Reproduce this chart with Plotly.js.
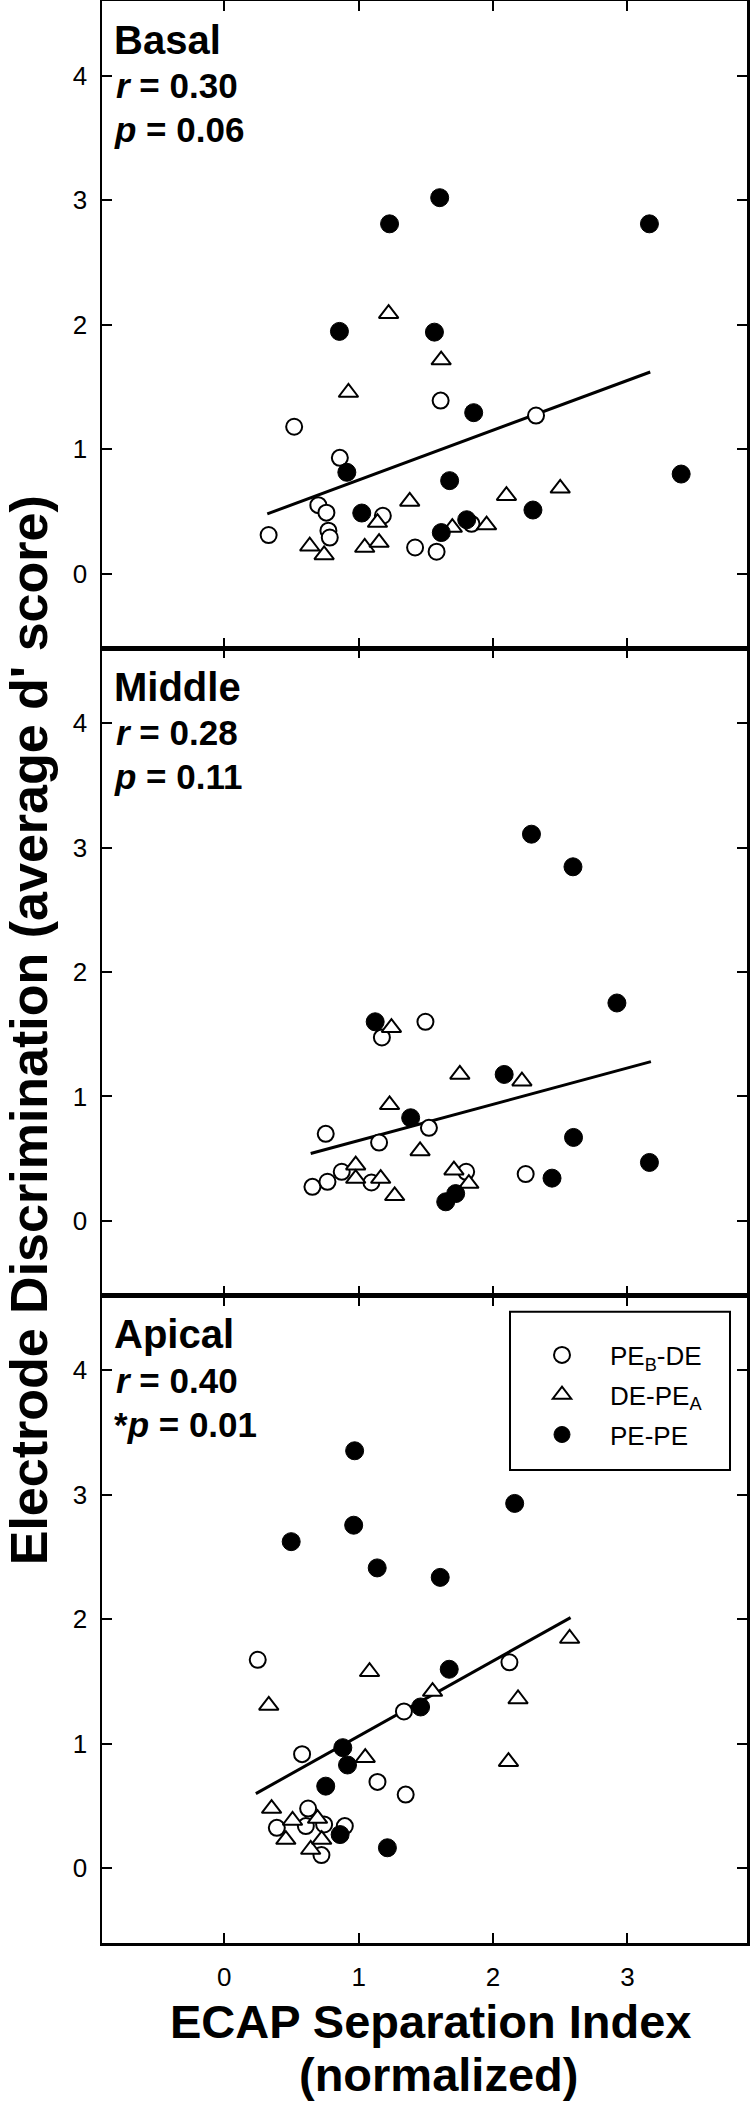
<!DOCTYPE html>
<html>
<head>
<meta charset="utf-8">
<script src="https://cdn.plot.ly/plotly-3.0.1.min.js"></script>
<style>html,body{margin:0;padding:0;background:#fff;}#chart{width:750px;height:2101px;}</style>
</head>
<body>
<div id="chart"></div>
<script>
// ---------------- data ----------------
const panelNames = ['Basal', 'Middle', 'Apical'];
const rValues = ['0.30', '0.28', '0.40'];
const pValues = ['0.06', '0.11', '0.01'];
const pPrefixes = ['', '', '*'];
const seriesNames = ['PE<sub>B</sub>-DE', 'DE-PE<sub>A</sub>', 'PE-PE'];
const xTicks = [0, 1, 2, 3];
const yTicks = [0, 1, 2, 3, 4];
const xTitleLines = ['ECAP Separation Index', '(normalized)'];
const yTitle = "Electrode Discrimination (average d' score)";

// Basal
const basalPebDeX = [0.33, 0.52, 0.86, 0.70, 0.76, 0.775, 0.785, 1.18, 1.42, 1.58, 1.61, 1.84, 2.32];
const basalPebDeY = [0.31, 1.18, 0.93, 0.55, 0.49, 0.345, 0.29, 0.465, 0.21, 0.176, 1.39, 0.40, 1.27];
const basalDePeaX = [0.636, 0.743, 0.924, 1.045, 1.14, 1.152, 1.223, 1.38, 1.614, 1.697, 1.952, 2.10, 2.50];
const basalDePeaY = [0.22, 0.15, 1.455, 0.21, 0.41, 0.25, 2.088, 0.58, 1.716, 0.37, 0.39, 0.626, 0.685];
const basalPePeX = [0.857, 0.912, 1.023, 1.23, 1.564, 1.603, 1.615, 1.677, 1.804, 1.856, 2.297, 3.164, 3.40];
const basalPePeY = [1.946, 0.814, 0.487, 2.81, 1.94, 3.02, 0.33, 0.747, 0.433, 1.293, 0.511, 2.81, 0.80];
const basalFitX = [0.32, 3.17];
const basalFitY = [0.48, 1.62];

// Middle
const middlePebDeX = [0.656, 0.755, 0.768, 0.874, 1.095, 1.152, 1.173, 1.497, 1.523, 1.80, 2.243];
const middlePebDeY = [0.274, 0.70, 0.315, 0.395, 0.309, 0.63, 1.474, 1.60, 0.748, 0.395, 0.377];
const middleDePeaX = [0.978, 0.978, 1.164, 1.23, 1.244, 1.268, 1.457, 1.709, 1.753, 1.82, 2.215];
const middleDePeaY = [0.448, 0.341, 0.341, 0.933, 1.553, 0.202, 0.563, 0.408, 1.177, 0.30, 1.123];
const middlePePeX = [1.123, 1.387, 1.648, 1.722, 2.083, 2.286, 2.439, 2.595, 2.599, 2.922, 3.164];
const middlePePeY = [1.60, 0.829, 0.154, 0.22, 1.177, 3.107, 0.344, 2.845, 0.671, 1.751, 0.47];
const middleFitX = [0.643, 3.175];
const middleFitY = [0.542, 1.28];

// Apical
const apicalPebDeX = [0.249, 0.391, 0.579, 0.607, 0.624, 0.723, 0.743, 0.897, 1.14, 1.337, 1.35, 2.122];
const apicalPebDeY = [1.675, 0.325, 0.917, 0.339, 0.48, 0.106, 0.352, 0.339, 0.694, 1.26, 0.592, 1.655];
const apicalDePeaX = [0.331, 0.352, 0.458, 0.508, 0.643, 0.694, 0.725, 1.049, 1.081, 1.55, 2.115, 2.186, 2.57];
const apicalDePeaY = [1.308, 0.48, 0.231, 0.384, 0.151, 0.40, 0.231, 0.889, 1.579, 1.42, 0.857, 1.36, 1.846];
const apicalPePeX = [0.498, 0.755, 0.862, 0.882, 0.917, 0.963, 0.97, 1.138, 1.214, 1.461, 1.607, 1.674, 2.161];
const apicalPePeY = [2.624, 0.66, 0.271, 0.969, 0.83, 2.756, 3.354, 2.413, 0.165, 1.296, 2.337, 1.599, 2.931];
const apicalFitX = [0.235, 2.577];
const apicalFitY = [0.60, 2.014];

// ---------------- layout helpers ----------------
const W = 750, H = 2101;
const M = {l: 102, r: 3, t: 1, b: 158};
const PW = W - M.l - M.r, PH = H - M.t - M.b;
const px = v => (v - M.l) / PW;
const py = v => 1 - (v - M.t) / PH;
const FONT = 'Liberation Sans, Arial, Helvetica, sans-serif';

const panels = [
  {xa: 'x3', ya: 'y3', fitX: basalFitX, fitY: basalFitY,
   s: [[basalPebDeX, basalPebDeY], [basalDePeaX, basalDePeaY], [basalPePeX, basalPePeY]]},
  {xa: 'x2', ya: 'y2', fitX: middleFitX, fitY: middleFitY,
   s: [[middlePebDeX, middlePebDeY], [middleDePeaX, middleDePeaY], [middlePePeX, middlePePeY]]},
  {xa: 'x', ya: 'y', fitX: apicalFitX, fitY: apicalFitY,
   s: [[apicalPebDeX, apicalPebDeY], [apicalDePeaX, apicalDePeaY], [apicalPePeX, apicalPePeY]]}
];

const markerStyles = [
  {symbol: 'circle', size: 16, color: '#ffffff', line: {color: '#000', width: 2}},
  {symbol: 'triangle-up', size: 17, color: '#ffffff', line: {color: '#000', width: 2}},
  {symbol: 'circle', size: 18, color: '#000000', line: {color: '#000', width: 1}}
];

const traces = [];
panels.forEach(p => {
  traces.push({x: p.fitX, y: p.fitY, xaxis: p.xa, yaxis: p.ya, mode: 'lines',
    line: {color: '#000', width: 3}, showlegend: false, hoverinfo: 'skip'});
});
panels.forEach((p, pi) => {
  p.s.forEach((d, si) => {
    traces.push({x: d[0], y: d[1], xaxis: p.xa, yaxis: p.ya, mode: 'markers',
      name: seriesNames[si], legendgroup: 'g' + si, showlegend: pi === 0,
      marker: markerStyles[si]});
  });
});

const panelTop = [1, 648.3, 1295.7];
const annotations = [];
panelNames.forEach((n, i) => {
  const T = panelTop[i];
  annotations.push({xref: 'paper', yref: 'paper', x: px(112), y: py(T + 52.5 - 0.3465 * 40),
    xanchor: 'left', yanchor: 'middle', showarrow: false, text: '<b>' + n + '</b>',
    font: {family: FONT, size: 40, color: '#000'}});
  annotations.push({xref: 'paper', yref: 'paper', x: px(114), y: py(T + 96.5 - 0.3465 * 35),
    xanchor: 'left', yanchor: 'middle', showarrow: false, text: '<b><i>r</i> = ' + rValues[i] + '</b>',
    font: {family: FONT, size: 35, color: '#000'}});
  annotations.push({xref: 'paper', yref: 'paper', x: px(112), y: py(T + 140.5 - 0.3465 * 35),
    xanchor: 'left', yanchor: 'middle', showarrow: false, text: '<b>' + pPrefixes[i] + '<i>p</i> = ' + pValues[i] + '</b>',
    font: {family: FONT, size: 35, color: '#000'}});
});
annotations.push({xref: 'paper', yref: 'paper', x: px(29.3), y: py(1030), xanchor: 'center', yanchor: 'middle',
  textangle: -90, showarrow: false, text: '<b>' + yTitle + '</b>',
  font: {family: FONT, size: 52, color: '#000'}});
annotations.push({xref: 'paper', yref: 'paper', x: px(431), y: py(2037.5 - 0.3465 * 47), xanchor: 'center', yanchor: 'middle',
  showarrow: false, text: '<b>' + xTitleLines[0] + '</b>', font: {family: FONT, size: 47, color: '#000'}});
annotations.push({xref: 'paper', yref: 'paper', x: px(439), y: py(2091 - 0.3465 * 47), xanchor: 'center', yanchor: 'middle',
  showarrow: false, text: '<b>' + xTitleLines[1] + '</b>', font: {family: FONT, size: 47, color: '#000'}});

function xAxis(anchor, labels) {
  return {anchor: anchor, range: [-0.91, 3.89], tickvals: xTicks, ticktext: xTicks.map(String),
    showticklabels: labels, ticks: 'inside', ticklen: 10, tickwidth: 2, tickcolor: '#000',
    showline: true, linewidth: 2.5, linecolor: '#000', mirror: 'ticks', showgrid: false, zeroline: false,
    tickfont: {family: FONT, size: 26, color: '#000'}, ticklabelstandoff: 9, fixedrange: true};
}
function yAxis(anchor, dom) {
  return {anchor: anchor, domain: dom, range: [-0.6, 4.6], tickvals: yTicks, ticktext: yTicks.map(String),
    ticks: 'inside', ticklen: 10, tickwidth: 2, tickcolor: '#000',
    showline: true, linewidth: 2.5, linecolor: '#000', mirror: 'ticks', showgrid: false, zeroline: false,
    tickfont: {family: FONT, size: 26, color: '#000'}, ticklabelstandoff: 7, fixedrange: true};
}

const layout = {
  width: W, height: H, margin: M, paper_bgcolor: '#fff', plot_bgcolor: '#fff',
  font: {family: FONT, color: '#000'},
  xaxis: xAxis('y', true), yaxis: yAxis('x', [0, 1/3]),
  xaxis2: xAxis('y2', false), yaxis2: yAxis('x2', [1/3, 2/3]),
  xaxis3: xAxis('y3', false), yaxis3: yAxis('x3', [2/3, 1]),
  showlegend: true,
  legend: {x: px(514), y: py(1331.5), xanchor: 'left', yanchor: 'top', bgcolor: 'rgba(0,0,0,0)',
    borderwidth: 0, font: {family: FONT, size: 26, color: '#000'}, itemwidth: 86,
    tracegroupgap: 3, traceorder: 'grouped'},
  shapes: [{type: 'rect', xref: 'paper', yref: 'paper', x0: px(510), x1: px(730), y0: py(1470), y1: py(1311.7),
    line: {color: '#000', width: 2}, fillcolor: 'rgba(0,0,0,0)'}],
  annotations: annotations
};

Plotly.newPlot('chart', traces, layout, {displayModeBar: false, staticPlot: true});
</script>
</body>
</html>
